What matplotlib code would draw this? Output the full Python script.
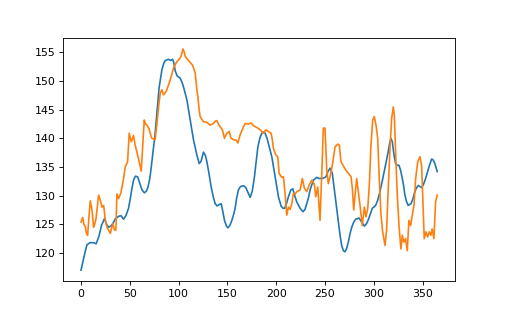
import matplotlib
matplotlib.use("Agg")
import matplotlib.pyplot as plt

# blue series (smooth)
blue_x = [0, 3, 6, 9, 13, 15.5, 18.5, 21, 24, 26.5, 28.5, 30.5, 32.5, 35, 38.5, 41,
          43.6, 46, 48.7, 50.5, 52.2, 54, 55.8, 58, 60.5, 62.5, 65, 67, 68.6, 70.5,
          72, 74, 75.5, 77.8, 80, 82.9, 85, 86.5, 89.5, 91.8, 93.8, 95, 96.5, 98.5,
          101.6, 103.5, 105, 108.5, 111.9, 115.3, 118.7, 121.1, 123, 125.5, 127.5,
          129, 131, 133.4, 135.5, 137.5, 139.5, 141, 143.6, 145, 147, 149, 150.5,
          152.5, 154.6, 156.5, 157.9, 159.5, 161.3, 163, 164.8, 167, 168.9, 171,
          173.3, 175.5, 177.7, 179.5, 181.2, 183.5, 185.3, 187, 188.6, 190.5, 192,
          195.5, 198.9, 202.3, 205, 207, 208.6, 210.5, 212.5, 215, 217, 219, 221.1,
          224.5, 227.5, 229.5, 231.3, 233, 234.7, 238.1, 241.5, 244, 246.7, 249,
          251, 253, 255.2, 257.5, 260.3, 262, 263.7, 265.5, 267.1, 268.8, 270.5,
          272.2, 273.9, 275.7, 277.4, 279.5, 281.5, 284.9, 287.6, 290.3, 292.5,
          294.4, 296.5, 298.5, 301.9, 304, 306.3, 308.5, 310.7, 312.8, 314.8, 316.3,
          317.6, 319, 320, 321, 322.4, 324, 325.8, 327.5, 329.2, 330.5, 331.9,
          333.5, 335.3, 338.1, 340, 341.5, 343.5, 345.6, 347.3, 349, 351, 353.1,
          356.5, 359.3, 361, 362.6, 365]
blue_y = [117.0, 119.3, 121.4, 121.8, 121.8, 121.6, 123.0, 124.8, 126.0, 124.9, 124.5,
          124.7, 125.1, 125.9, 126.4, 126.5, 125.9, 126.5, 127.8, 129.5, 131.3, 132.8,
          133.4, 133.3, 132.0, 131.0, 130.5, 130.8, 131.5, 133.0, 135.0, 138.0, 140.0,
          144.4, 148.8, 152.0, 153.2, 153.6, 153.8, 153.6, 153.8, 153.3, 151.8, 150.9,
          150.5, 149.8, 149.0, 146.7, 143.2, 139.7, 137.1, 135.6, 136.0, 137.6, 137.0,
          135.9, 134.0, 131.5, 129.8, 128.6, 128.2, 128.4, 128.6, 127.5, 125.7, 124.7,
          124.4, 124.8, 125.7, 126.8, 127.8, 129.6, 131.0, 131.5, 131.7, 131.7, 131.4,
          130.6, 129.7, 130.8, 133.3, 136.0, 138.5, 140.2, 140.9, 141.1, 140.9, 140.1,
          139.1, 136.8, 133.3, 129.8, 128.2, 127.8, 127.8, 128.6, 129.8, 131.0, 131.2,
          130.0, 128.9, 127.8, 127.2, 127.6, 128.6, 129.6, 131.0, 132.7, 133.2, 133.0,
          133.0, 133.1, 133.3, 134.2, 134.8, 133.9, 130.1, 127.8, 125.4, 123.0, 121.3,
          120.4, 120.2, 120.8, 121.9, 123.4, 124.5, 125.4, 125.9, 126.1, 125.4, 124.7,
          125.1, 125.8, 126.8, 127.8, 128.3, 129.2, 130.7, 132.4, 134.2, 136.0, 137.7,
          139.2, 140.0, 139.4, 138.0, 136.8, 135.6, 135.3, 135.3, 134.4, 133.0, 131.8,
          130.1, 129.0, 128.3, 128.6, 129.4, 130.4, 131.3, 131.8, 131.6, 131.4, 132.0,
          133.0, 135.0, 136.4, 136.2, 135.6, 134.2]

# orange series (noisy)
orange_x = [0, 1.7, 3, 4.4, 5.5, 6.8, 8, 9.5, 11.3, 12.9, 14, 15.4, 17, 18, 19.8,
            21.5, 23.2, 24.9, 26.5, 28.3, 30, 32.4, 34.4, 35.7, 36.8, 38.5, 40.9,
            43.6, 45.3, 47.7, 49.4, 51.5, 53.8, 55.5, 57.3, 59.5, 61.7, 63, 64.8,
            66.2, 67.6, 69.9, 71.5, 72.7, 76, 77.8, 79.5, 81.2, 82.9, 84.5, 86.5, 88,
            91.4, 94.8, 98.3, 101.6, 103, 104.4, 105.5, 106.8, 110.1, 114.2, 117,
            118.7, 119.8, 121, 122.1, 125.5, 129, 132.3, 135.7, 137.5, 139.2, 140.8,
            142.6, 144.9, 147, 149.4, 151.8, 153.8, 157.2, 159, 160.7, 163, 166.4,
            168.2, 171.5, 174.3, 176.7, 180.1, 183.5, 186.9, 189.4, 192, 194.8, 196,
            197.1, 199.6, 201.6, 203, 205.7, 207.4, 209.1, 210.8, 212.5, 214.2, 216,
            217.6, 219.5, 221.1, 224.5, 226.8, 228.9, 231.3, 233.7, 236.4, 239.1,
            240.5, 242.6, 244.9, 246.7, 248.3, 250, 251.8, 253.4, 255.2, 257.5, 260.3,
            263, 264.7, 266.4, 268.8, 271.2, 273.9, 276.7, 278, 279.4, 280.8, 282.5,
            284.1, 285.9, 288.2, 290.3, 292, 293.8, 295.4, 297.1, 298.9, 300.5, 302.3,
            304, 305.6, 307.4, 309.1, 311.5, 313.2, 314.8, 316.6, 318.3, 320, 321,
            322.7, 324.1, 325.8, 327.8, 329.2, 330.9, 332.6, 334.3, 336, 337.8, 339.4,
            341.2, 342.9, 345, 347.3, 349, 350.7, 351.7, 353.4, 355.2, 356.8, 358.5,
            359.8, 361.6, 363.3, 365]
orange_y = [125.4, 126.2, 125.0, 124.6, 123.5, 123.1, 126.0, 129.1, 127.5, 124.5, 125.0,
            126.0, 128.5, 130.1, 129.2, 128.0, 128.3, 125.7, 124.6, 124.0, 123.4, 125.1,
            124.0, 124.0, 130.3, 129.5, 130.5, 133.0, 135.0, 135.9, 140.9, 139.4, 140.5,
            138.8, 137.6, 136.0, 134.3, 138.0, 143.2, 142.5, 142.3, 141.6, 140.5, 140.0,
            139.8, 142.6, 145.5, 147.9, 148.5, 147.6, 148.0, 148.5, 150.2, 152.3, 153.4,
            154.0, 154.6, 155.6, 155.2, 154.3, 153.6, 152.8, 151.4, 148.5, 147.2, 145.0,
            143.8, 142.9, 142.8, 142.3, 142.6, 143.0, 143.1, 142.5, 142.0, 141.5, 140.0,
            140.9, 141.2, 140.0, 139.7, 139.7, 139.2, 140.6, 142.0, 142.6, 142.5, 142.7,
            142.2, 141.9, 141.5, 140.9, 141.5, 141.2, 140.9, 139.8, 138.3, 137.1, 136.8,
            133.9, 133.2, 133.3, 130.4, 126.6, 128.0, 127.6, 128.6, 130.4, 130.3, 130.7,
            131.0, 133.0, 131.3, 130.7, 131.8, 132.7, 132.0, 129.8, 131.5, 125.7, 133.9,
            141.8, 141.8, 134.5, 132.1, 133.3, 135.3, 138.5, 139.0, 138.8, 135.9, 135.2,
            134.5, 133.9, 133.3, 131.3, 127.5, 130.1, 133.0, 130.7, 128.3, 124.8, 128.0,
            126.3, 127.8, 131.8, 138.8, 143.2, 143.8, 142.3, 140.0, 133.0, 126.6, 123.7,
            121.3, 124.2, 131.3, 138.3, 143.5, 145.5, 144.1, 135.9, 130.1, 124.8, 120.7,
            123.1, 121.9, 122.5, 120.4, 125.7, 124.8, 126.6, 128.3, 133.0, 135.9, 136.8,
            135.3, 127.2, 122.5, 123.7, 122.8, 123.7, 123.1, 124.2, 122.5, 128.9, 130.1]

fig, ax = plt.subplots(figsize=(6.4, 4.0), dpi=79)
ax.plot(blue_x, blue_y, color="#1f77b4")
ax.plot(orange_x, orange_y, color="#ff7f0e")

fig.savefig("out.png", dpi=79)
